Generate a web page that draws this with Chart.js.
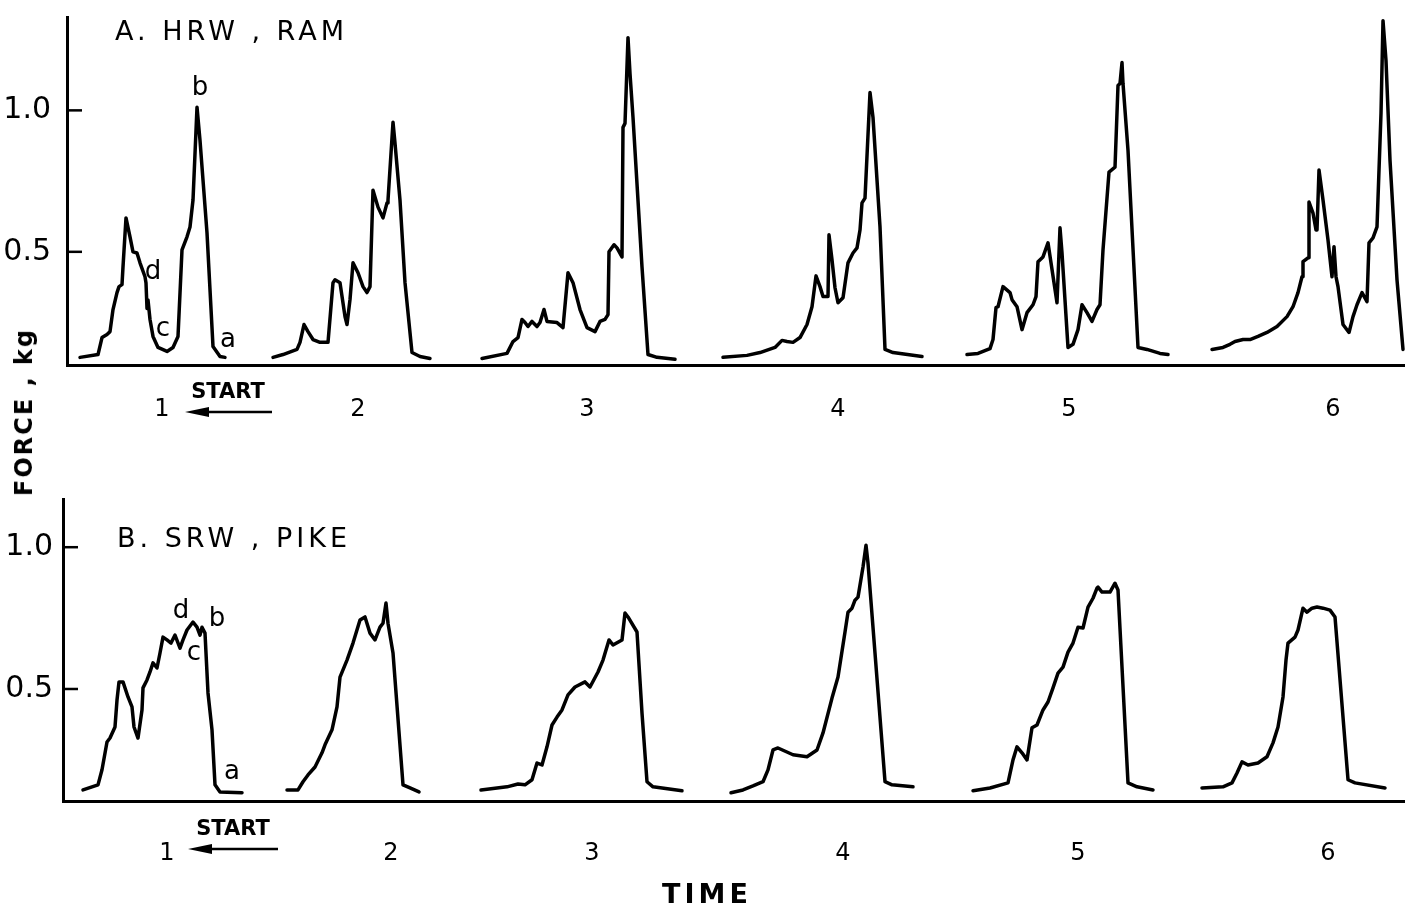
<!DOCTYPE html>
<html>
<head>
<meta charset="utf-8">
<script src="https://cdn.jsdelivr.net/npm/chart.js@4.4.1/dist/chart.umd.min.js"></script>
<style>
  body { margin: 0; background: #fff; }
  #wrap { position: relative; width: 1405px; height: 915px; overflow: hidden; font-family: "DejaVu Sans", sans-serif; color: #000; }
  canvas { position: absolute; left: 0; }
  .lbl { position: absolute; white-space: nowrap; line-height: 1; }
</style>
</head>
<body>
<div id="wrap">
  <canvas id="chartA" width="1405" height="440" style="top:0"></canvas>
  <canvas id="chartB" width="1405" height="420" style="top:460px"></canvas>
  <div class="lbl" style="left:115px; top:17px; font-size:27px; letter-spacing:4px;">A. HRW , RAM</div>
  <div class="lbl" style="left:117px; top:524px; font-size:27px; letter-spacing:4px;">B. SRW , PIKE</div>
  <div class="lbl" style="left:24px; top:412px; font-size:24px; font-weight:bold; letter-spacing:2px; transform:translate(-50%,-50%) rotate(-90deg);">FORCE , kg</div>
  <div class="lbl" style="left:707px; top:893px; font-size:27px; font-weight:bold; letter-spacing:4px; transform:translate(-50%,-50%);">TIME</div>
</div>
<script>
// force traces, [time, force kg]; time in arbitrary units along the record
const hrwRam1 = [[0.13,0.127],[0.31,0.137],[0.35,0.197],[0.40,0.208],[0.43,0.218],[0.46,0.296],[0.50,0.356],[0.52,0.377],[0.55,0.384],[0.56,0.447],[0.59,0.620],[0.63,0.553],[0.66,0.500],[0.70,0.496],[0.73,0.461],[0.78,0.412],[0.79,0.39],[0.80,0.30],[0.81,0.33],[0.83,0.261],[0.86,0.201],[0.91,0.162],[1.00,0.148],[1.06,0.162],[1.11,0.201],[1.15,0.507],[1.20,0.553],[1.23,0.588],[1.26,0.683],[1.30,1.011],[1.33,0.894],[1.40,0.567],[1.46,0.165],[1.53,0.130],[1.58,0.127]];
const hrwRam2 = [[2.06,0.127],[2.16,0.137],[2.30,0.155],[2.33,0.180],[2.37,0.243],[2.41,0.218],[2.46,0.190],[2.53,0.180],[2.61,0.180],[2.66,0.391],[2.68,0.401],[2.73,0.391],[2.78,0.271],[2.80,0.243],[2.83,0.331],[2.86,0.461],[2.91,0.426],[2.96,0.377],[3.00,0.356],[3.03,0.377],[3.06,0.718],[3.11,0.658],[3.16,0.620],[3.20,0.673],[3.21,0.683],[3.26,0.958],[3.28,0.884],[3.33,0.683],[3.38,0.391],[3.45,0.144],[3.53,0.130],[3.63,0.123]];
const hrwRam3 = [[4.15,0.123],[4.40,0.141],[4.46,0.183],[4.51,0.197],[4.55,0.261],[4.58,0.250],[4.61,0.236],[4.65,0.254],[4.70,0.236],[4.73,0.250],[4.77,0.296],[4.80,0.254],[4.90,0.250],[4.96,0.232],[5.01,0.426],[5.06,0.391],[5.13,0.296],[5.20,0.232],[5.28,0.218],[5.33,0.254],[5.38,0.261],[5.41,0.278],[5.42,0.500],[5.47,0.525],[5.50,0.514],[5.55,0.482],[5.56,0.940],[5.58,0.954],[5.61,1.257],[5.63,1.130],[5.66,0.975],[5.75,0.447],[5.81,0.137],[5.90,0.127],[6.08,0.120]];
const hrwRam4 = [[6.56,0.127],[6.80,0.134],[6.93,0.144],[7.08,0.162],[7.15,0.187],[7.20,0.183],[7.26,0.180],[7.33,0.197],[7.40,0.243],[7.45,0.306],[7.49,0.415],[7.53,0.377],[7.56,0.342],[7.61,0.342],[7.62,0.560],[7.65,0.472],[7.68,0.373],[7.71,0.320],[7.76,0.338],[7.81,0.461],[7.86,0.496],[7.90,0.514],[7.93,0.577],[7.95,0.673],[7.98,0.690],[8.03,1.063],[8.06,0.975],[8.13,0.588],[8.18,0.155],[8.26,0.144],[8.55,0.130]];
const hrwRam5 = [[9.00,0.137],[9.11,0.141],[9.23,0.158],[9.26,0.190],[9.29,0.303],[9.31,0.306],[9.36,0.377],[9.43,0.356],[9.45,0.331],[9.50,0.306],[9.55,0.225],[9.60,0.285],[9.66,0.313],[9.69,0.342],[9.71,0.465],[9.76,0.482],[9.81,0.532],[9.90,0.320],[9.93,0.585],[9.95,0.496],[10.01,0.162],[10.06,0.173],[10.11,0.225],[10.15,0.313],[10.20,0.285],[10.25,0.254],[10.30,0.296],[10.33,0.313],[10.36,0.507],[10.42,0.782],[10.48,0.799],[10.51,1.088],[10.53,1.095],[10.55,1.169],[10.56,1.095],[10.61,0.859],[10.71,0.162],[10.80,0.155],[10.93,0.141],[11.01,0.137]];
const hrwRam6 = [[11.45,0.155],[11.56,0.162],[11.63,0.173],[11.68,0.183],[11.76,0.190],[11.83,0.190],[11.91,0.201],[12.00,0.215],[12.10,0.236],[12.20,0.271],[12.26,0.306],[12.31,0.356],[12.35,0.412],[12.36,0.465],[12.41,0.479],[12.42,0.676],[12.46,0.637],[12.49,0.577],[12.50,0.577],[12.52,0.789],[12.56,0.683],[12.61,0.542],[12.65,0.412],[12.67,0.518],[12.69,0.412],[12.71,0.377],[12.76,0.243],[12.82,0.215],[12.86,0.271],[12.90,0.313],[12.95,0.356],[13.00,0.324],[13.02,0.532],[13.06,0.549],[13.10,0.588],[13.14,0.989],[13.16,1.317],[13.19,1.176],[13.23,0.824],[13.30,0.401],[13.36,0.155]];

const srwPike1 = [[0.20,0.144],[0.35,0.162],[0.39,0.215],[0.44,0.313],[0.47,0.327],[0.52,0.366],[0.54,0.461],[0.56,0.525],[0.60,0.525],[0.65,0.472],[0.69,0.437],[0.71,0.366],[0.75,0.327],[0.79,0.426],[0.80,0.504],[0.84,0.532],[0.87,0.560],[0.90,0.592],[0.94,0.574],[0.97,0.627],[1.00,0.683],[1.04,0.673],[1.08,0.662],[1.12,0.690],[1.17,0.644],[1.20,0.673],[1.24,0.708],[1.30,0.736],[1.34,0.718],[1.37,0.690],[1.39,0.718],[1.42,0.697],[1.45,0.486],[1.49,0.356],[1.52,0.162],[1.57,0.137],[1.79,0.134]];
const srwPike2 = [[2.24,0.144],[2.35,0.144],[2.40,0.173],[2.45,0.197],[2.52,0.225],[2.59,0.275],[2.62,0.303],[2.69,0.356],[2.74,0.437],[2.77,0.542],[2.84,0.602],[2.90,0.662],[2.97,0.743],[3.02,0.754],[3.07,0.697],[3.12,0.673],[3.17,0.718],[3.20,0.732],[3.23,0.803],[3.25,0.732],[3.30,0.627],[3.40,0.162],[3.47,0.151],[3.56,0.137]];
const srwPike3 = [[4.18,0.144],[4.44,0.155],[4.55,0.165],[4.62,0.162],[4.69,0.180],[4.74,0.239],[4.79,0.232],[4.84,0.296],[4.89,0.373],[4.94,0.401],[4.99,0.426],[5.05,0.479],[5.12,0.507],[5.22,0.525],[5.27,0.507],[5.35,0.560],[5.40,0.602],[5.46,0.673],[5.50,0.655],[5.59,0.673],[5.62,0.768],[5.65,0.754],[5.74,0.701],[5.79,0.415],[5.84,0.173],[5.90,0.155],[6.19,0.141]];
const srwPike4 = [[6.68,0.134],[6.80,0.144],[6.90,0.158],[7.00,0.173],[7.05,0.215],[7.10,0.285],[7.15,0.292],[7.30,0.268],[7.44,0.261],[7.54,0.285],[7.60,0.345],[7.69,0.468],[7.75,0.542],[7.82,0.701],[7.85,0.771],[7.89,0.785],[7.92,0.813],[7.95,0.824],[8.00,0.930],[8.03,1.007],[8.05,0.944],[8.22,0.173],[8.29,0.162],[8.50,0.155]];
const srwPike5 = [[9.10,0.141],[9.27,0.151],[9.45,0.169],[9.50,0.250],[9.54,0.296],[9.59,0.275],[9.64,0.250],[9.69,0.363],[9.74,0.373],[9.80,0.426],[9.85,0.454],[9.90,0.504],[9.95,0.556],[10.00,0.577],[10.05,0.630],[10.10,0.662],[10.15,0.718],[10.20,0.715],[10.25,0.789],[10.30,0.820],[10.34,0.856],[10.35,0.859],[10.39,0.842],[10.47,0.842],[10.52,0.873],[10.55,0.849],[10.65,0.169],[10.74,0.155],[10.90,0.144]];
const srwPike6 = [[11.39,0.151],[11.60,0.155],[11.69,0.169],[11.74,0.204],[11.79,0.243],[11.85,0.232],[11.95,0.239],[12.04,0.261],[12.10,0.310],[12.15,0.366],[12.20,0.472],[12.23,0.602],[12.25,0.662],[12.32,0.683],[12.35,0.708],[12.40,0.785],[12.44,0.771],[12.49,0.785],[12.54,0.789],[12.60,0.785],[12.67,0.778],[12.72,0.754],[12.85,0.180],[12.92,0.169],[13.22,0.151]];

const yTicks = [0.5, 1.0];
const trialLabels = ["1", "2", "3", "4", "5", "6"];
const trialPosA = [0.95, 2.91, 5.20, 7.71, 10.02, 12.66];
const trialPosB = [1.04, 3.28, 5.29, 7.80, 10.15, 12.65];
// letter marks: [letter, time, force at baseline]
const lettersA = [["b", 1.33, 1.053], ["d", 0.86, 0.405], ["c", 0.96, 0.204], ["a", 1.61, 0.162]];
const lettersB = [["d", 1.18, 0.75], ["b", 1.54, 0.722], ["c", 1.31, 0.602], ["a", 1.69, 0.183]];
// start arrow: [head time, tail time, text time]
const startA = [1.18, 2.05, 1.61];
const startB = [1.25, 2.15, 1.70];

Chart.defaults.font.family = '"DejaVu Sans", sans-serif';
Chart.defaults.color = "#000";

const marks = {
    id: "marks",
    afterDraw(chart) {
        const { ctx, chartArea, scales: { x, y } } = chart;
        const o = chart.options.plugins.marks;
        ctx.save();
        ctx.strokeStyle = "#000";
        ctx.fillStyle = "#000";

        // ticks point inward
        ctx.lineWidth = 2.5;
        yTicks.forEach(v => {
            const py = y.getPixelForValue(v);
            ctx.beginPath();
            ctx.moveTo(chartArea.left, py);
            ctx.lineTo(chartArea.left + 15, py);
            ctx.stroke();
        });

        ctx.font = '26px "DejaVu Sans"';
        ctx.textAlign = "center";
        ctx.textBaseline = "alphabetic";
        o.letters.forEach(([s, t, f]) => {
            ctx.fillText(s, x.getPixelForValue(t), y.getPixelForValue(f));
        });

        // START with arrow
        const [head, tail, mid] = o.start;
        ctx.font = 'bold 21px "DejaVu Sans"';
        ctx.fillText("START", x.getPixelForValue(mid), chartArea.bottom + o.startGap + 8);
        const ay = chartArea.bottom + o.startGap + 22;
        const hx = x.getPixelForValue(head);
        const tx = x.getPixelForValue(tail);
        ctx.lineWidth = 2.5;
        ctx.beginPath();
        ctx.moveTo(tx, ay);
        ctx.lineTo(hx + 12, ay);
        ctx.stroke();
        ctx.beginPath();
        ctx.moveTo(hx, ay);
        ctx.lineTo(hx + 24, ay - 5);
        ctx.lineTo(hx + 24, ay + 5);
        ctx.closePath();
        ctx.fill();
        ctx.restore();
    }
};

function makeChart(id, traces, o) {
    return new Chart(document.getElementById(id), {
        type: "line",
        data: {
            datasets: traces.map((tr, i) => ({
                label: "Trial " + trialLabels[i],
                data: tr.map(([t, f]) => ({ x: t, y: f })),
                borderColor: "#000",
                borderWidth: 3.5,
                borderJoinStyle: "round",
                borderCapStyle: "round",
                pointRadius: 0,
                tension: 0,
                fill: false
            }))
        },
        options: {
            responsive: false,
            animation: false,
            devicePixelRatio: 1,
            layout: { padding: { top: o.top, right: 0, left: 0, bottom: 0 } },
            plugins: {
                legend: { display: false },
                tooltip: { enabled: false },
                marks: { letters: o.letters, start: o.start, startGap: o.startGap }
            },
            scales: {
                x: {
                    type: "linear",
                    min: 0,
                    max: o.xMax,
                    grid: { display: false, drawTicks: false },
                    border: { display: true, color: "#000", width: 3 },
                    afterFit: s => { s.height = o.xAxisH; s.paddingLeft = 0; s.paddingRight = 0; },
                    afterBuildTicks: s => { s.ticks = o.trialPos.map(v => ({ value: v })); },
                    ticks: {
                        autoSkip: false,
                        maxRotation: 0,
                        padding: o.labelPad,
                        font: { size: 24 },
                        callback: (v, i) => trialLabels[i]
                    }
                },
                y: {
                    min: o.yMin,
                    max: o.yMax,
                    grid: { display: false, drawTicks: false },
                    border: { display: true, color: "#000", width: 3 },
                    afterFit: s => { s.width = o.yAxisW; s.paddingTop = 0; s.paddingBottom = 0; },
                    afterBuildTicks: s => { s.ticks = yTicks.map(v => ({ value: v })); },
                    ticks: {
                        padding: o.yPad,
                        font: { size: 30 },
                        callback: v => v.toFixed(1)
                    }
                }
            }
        },
        plugins: [marks]
    });
}

makeChart("chartA", [hrwRam1, hrwRam2, hrwRam3, hrwRam4, hrwRam5, hrwRam6], {
    top: 17, xAxisH: 75, yAxisW: 67, yMin: 0.1, yMax: 1.33, xMax: 13.38,
    trialPos: trialPosA, labelPad: 30, yPad: 16, letters: lettersA, start: startA, startGap: 25
});
makeChart("chartB", [srwPike1, srwPike2, srwPike3, srwPike4, srwPike5, srwPike6], {
    top: 39, xAxisH: 79, yAxisW: 63, yMin: 0.105, yMax: 1.17, xMax: 13.42,
    trialPos: trialPosB, labelPad: 38, yPad: 10, letters: lettersB, start: startB, startGap: 26
});
</script>
</body>
</html>
